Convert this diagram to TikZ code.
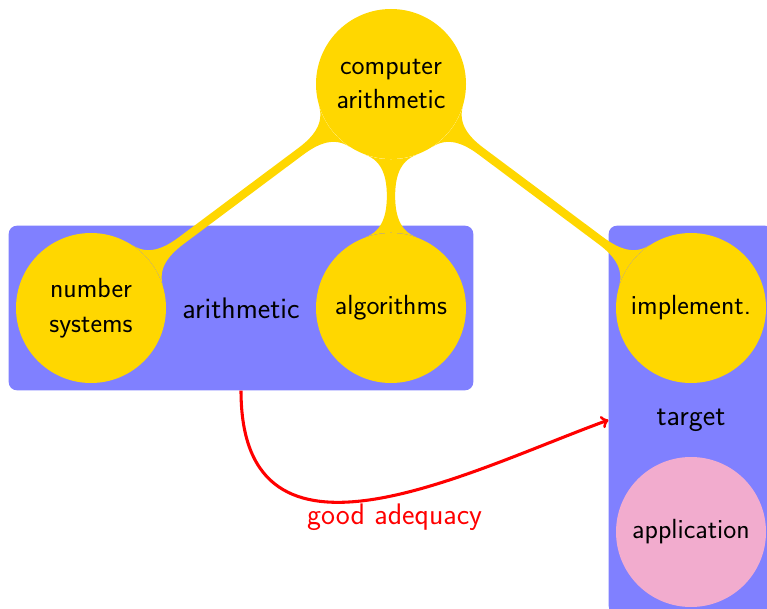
\documentclass[tikz,border=0pt]{standalone}
\usetikzlibrary{mindmap,fit,backgrounds}
\definecolor{conceptgold}{RGB}{255,215,0}
\definecolor{groupblue}{RGB}{128,128,255}
\definecolor{apppink}{RGB}{242,172,206}
\begin{document}
\begin{tikzpicture}[x=0.75pt,y=0.75pt,
  font=\sffamily\fontsize{20.74}{26}\selectfont,
  bigtext/.style={font=\sffamily\fontsize{22.3}{28}\selectfont},
  topic/.style={circle, fill=conceptgold, minimum size=112.5pt, inner sep=0pt,
    align=center, text=black},
  group/.style={fill=groupblue, rounded corners=6pt, inner sep=5.25pt},
  bar/.style={fill=conceptgold, decoration={circle connection bar,
    start radius=56.25pt, end radius=56.25pt, amplitude=6.2pt}}]
\useasboundingbox (0,0) rectangle (767,-609);

% concepts
\node[topic] (ca)   at (391,-84)  {computer\\arithmetic};
\node[topic] (ns)   at (91,-308)  {number\\systems};
\node[topic] (alg)  at (391,-308) {algorithms};
\node[topic] (impl) at (691,-308) {implement.};
\node[topic, fill=apppink] (app) at (691,-532) {application};

% groups behind the concepts, with their titles at their centres
\begin{scope}[on background layer]
  \node[group, fit=(ns)(alg)] (arith) {};
  \node[group, fit=(impl)(app)] (target) {};
  \node[bigtext] (arithlabel) at (arith.center) {arithmetic};
  \node[bigtext] (targetlabel) at (target.center) {target};
\end{scope}

% connection bars from the root concept
\path[bar] decorate {(ca) -- (ns)};
\path[bar] decorate {(ca) -- (alg)};
\path[bar] decorate {(ca) -- (impl)};

% adequacy arrow
\draw[->, red, line width=2.3pt] (arith.south)
  .. controls +(0,-200) and +(200:150) .. (target.west)
  node[pos=0.55, below=5pt, inner sep=0pt, text=red, bigtext] (adeq) {good adequacy};
\end{tikzpicture}
\end{document}
